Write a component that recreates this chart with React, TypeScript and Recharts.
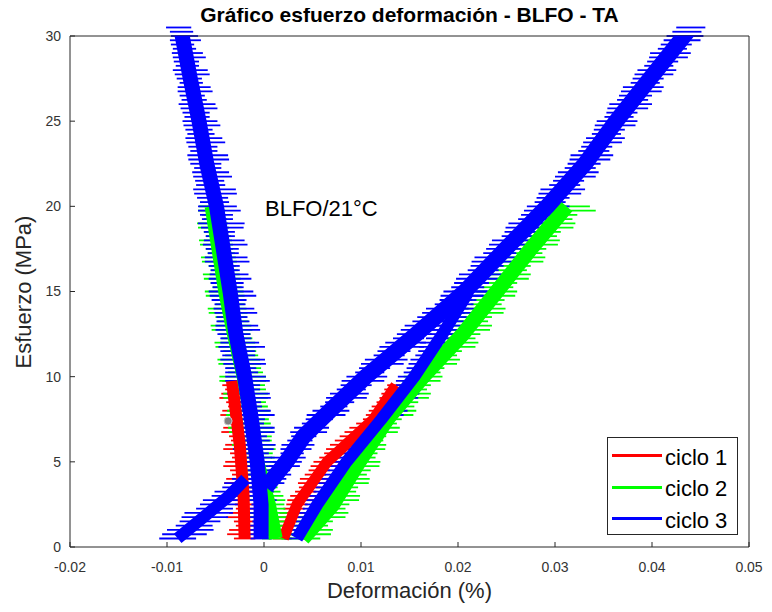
import React from 'react';
import { ComposedChart, XAxis, YAxis, Scatter, ErrorBar, Legend } from 'recharts';

// [esfuerzo (MPa), deformación (%), dispersión (%)]
type Row = [number, number, number];
// [esfuerzo (MPa), deformación (%)] – eje central de cada rama
type Eje = [number, number];

const xTicks = [-0.02, -0.01, 0, 0.01, 0.02, 0.03, 0.04, 0.05];
const yTicks = [0, 5, 10, 15, 20, 25, 30];
const seriesNames = ['ciclo 1', 'ciclo 2', 'ciclo 3'];
const seriesColors = ['#ff0000', '#00ff00', '#0000ff'];

const ciclo1Descarga: Row[] = [
  [0.5, -0.002, 0.0011], [0.75, -0.0023, 0.0015], [1.0, -0.0022, 0.0014], [1.25, -0.0018, 0.0011],
  [1.5, -0.0019, 0.0012], [1.75, -0.0023, 0.0016], [2.0, -0.0021, 0.0015], [2.25, -0.0018, 0.0011],
  [2.5, -0.0019, 0.0011], [2.75, -0.0023, 0.0015], [3.0, -0.0022, 0.0014], [3.25, -0.0019, 0.0011],
  [3.5, -0.0021, 0.0011], [3.75, -0.0025, 0.0016], [4.0, -0.0024, 0.0015], [4.25, -0.0021, 0.0012],
  [4.5, -0.0023, 0.0012], [4.75, -0.0026, 0.0016], [5.0, -0.0025, 0.0015], [5.25, -0.0022, 0.0011],
  [5.5, -0.0024, 0.0011], [5.75, -0.0027, 0.0015], [6.0, -0.0026, 0.0014], [6.25, -0.0023, 0.0011],
  [6.5, -0.0025, 0.0011], [6.75, -0.0029, 0.0015], [7.0, -0.0028, 0.0014], [7.25, -0.0025, 0.0011],
  [7.5, -0.0027, 0.0011], [7.75, -0.0031, 0.0014], [8.0, -0.003, 0.0013], [8.25, -0.0027, 0.001],
  [8.5, -0.0029, 0.001], [8.75, -0.0033, 0.0013], [9.0, -0.0032, 0.0012], [9.25, -0.003, 0.001],
  [9.5, -0.0033, 0.001], [9.75, -0.0035, 0.0008],
];

const ciclo1Carga: Row[] = [
  [0.5, 0.0019, 0.001], [0.75, 0.0022, 0.0014], [1.0, 0.0022, 0.0013], [1.25, 0.0021, 0.001],
  [1.5, 0.0024, 0.001], [1.75, 0.0029, 0.0015], [2.0, 0.003, 0.0014], [2.25, 0.0031, 0.0011],
  [2.5, 0.0034, 0.0011], [2.75, 0.0039, 0.0015], [3.0, 0.0041, 0.0014], [3.25, 0.0043, 0.0011],
  [3.5, 0.0047, 0.0011], [3.75, 0.0051, 0.0016], [4.0, 0.0052, 0.0015], [4.25, 0.0053, 0.0011],
  [4.5, 0.0057, 0.0011], [4.75, 0.0064, 0.0016], [5.0, 0.0066, 0.0015], [5.25, 0.0068, 0.0011],
  [5.5, 0.0073, 0.0011], [5.75, 0.008, 0.0016], [6.0, 0.0083, 0.0015], [6.25, 0.0085, 0.0012],
  [6.5, 0.009, 0.0012], [6.75, 0.0099, 0.0016], [7.0, 0.0103, 0.0015], [7.25, 0.0107, 0.0012],
  [7.5, 0.0114, 0.0012], [7.75, 0.0121, 0.0016], [8.0, 0.0122, 0.0014], [8.25, 0.0122, 0.0011],
  [8.5, 0.0127, 0.0011], [8.75, 0.0132, 0.0013], [9.0, 0.0133, 0.0012], [9.25, 0.0134, 0.001],
  [9.5, 0.0137, 0.001],
];

const ciclo2Descarga: Row[] = [
  [0.5, 0.0013, 0.0015], [0.75, 0.001, 0.002], [1.0, 0.0009, 0.0018], [1.25, 0.0012, 0.0014],
  [1.5, 0.001, 0.0014], [1.75, 0.0006, 0.002], [2.0, 0.0005, 0.0019], [2.25, 0.0008, 0.0014],
  [2.5, 0.0006, 0.0015], [2.75, 0.0002, 0.002], [3.0, 0.0001, 0.0019], [3.25, 0.0003, 0.0014],
  [3.5, 0.0, 0.0014], [3.75, -0.0003, 0.0021], [4.0, -0.0004, 0.002], [4.25, -0.0001, 0.0015],
  [4.5, -0.0003, 0.0015], [4.75, -0.0007, 0.0022], [5.0, -0.0008, 0.0021], [5.25, -0.0005, 0.0016],
  [5.5, -0.0007, 0.0016], [5.75, -0.001, 0.0022], [6.0, -0.0011, 0.0022], [6.25, -0.0008, 0.0016],
  [6.5, -0.0009, 0.0017], [6.75, -0.0013, 0.0023], [7.0, -0.0014, 0.0023], [7.25, -0.001, 0.0017],
  [7.5, -0.0012, 0.0017], [7.75, -0.0016, 0.0023], [8.0, -0.0016, 0.0022], [8.25, -0.0013, 0.0017],
  [8.5, -0.0015, 0.0017], [8.75, -0.0019, 0.0023], [9.0, -0.0019, 0.0023], [9.25, -0.0016, 0.0018],
  [9.5, -0.0017, 0.0018], [9.75, -0.0022, 0.0024], [10.0, -0.0022, 0.0024], [10.25, -0.0019, 0.0018],
  [10.5, -0.0021, 0.0018], [10.75, -0.0025, 0.0022], [11.0, -0.0026, 0.0022], [11.25, -0.0023, 0.0017],
  [11.5, -0.0025, 0.0017], [11.75, -0.0029, 0.0021], [12.0, -0.003, 0.0021], [12.25, -0.0028, 0.0016],
  [12.5, -0.003, 0.0016], [12.75, -0.0033, 0.0021], [13.0, -0.0034, 0.0021], [13.25, -0.0032, 0.0016],
  [13.5, -0.0034, 0.0016], [13.75, -0.0037, 0.002], [14.0, -0.0038, 0.002], [14.25, -0.0035, 0.0015],
  [14.5, -0.0037, 0.0015], [14.75, -0.004, 0.002], [15.0, -0.0041, 0.002], [15.25, -0.0038, 0.0015],
  [15.5, -0.004, 0.0015], [15.75, -0.0043, 0.0019], [16.0, -0.0044, 0.0019], [16.25, -0.0041, 0.0014],
  [16.5, -0.0043, 0.0014], [16.75, -0.0046, 0.0018], [17.0, -0.0047, 0.0018], [17.25, -0.0044, 0.0014],
  [17.5, -0.0046, 0.0014], [17.75, -0.0049, 0.0017], [18.0, -0.005, 0.0017], [18.25, -0.0047, 0.0013],
  [18.5, -0.0049, 0.0013], [18.75, -0.0052, 0.0016], [19.0, -0.0053, 0.0016], [19.25, -0.005, 0.0012],
  [19.5, -0.0052, 0.0012], [19.75, -0.0054, 0.0014], [20.0, -0.0055, 0.0012],
];

const ciclo2Carga: Row[] = [
  [0.5, 0.0038, 0.002], [0.75, 0.0044, 0.0025], [1.0, 0.0047, 0.0024], [1.25, 0.0048, 0.0018],
  [1.5, 0.0052, 0.0019], [1.75, 0.006, 0.0024], [2.0, 0.0064, 0.0023], [2.25, 0.0066, 0.0018],
  [2.5, 0.007, 0.0018], [2.75, 0.0075, 0.0023], [3.0, 0.0077, 0.0022], [3.25, 0.0078, 0.0017],
  [3.5, 0.008, 0.0017], [3.75, 0.0086, 0.0022], [4.0, 0.0088, 0.0021], [4.25, 0.009, 0.0016],
  [4.5, 0.0094, 0.0016], [4.75, 0.0098, 0.0021], [5.0, 0.0099, 0.0021], [5.25, 0.0099, 0.0016],
  [5.5, 0.0101, 0.0016], [5.75, 0.0105, 0.002], [6.0, 0.0106, 0.002], [6.25, 0.0107, 0.0016],
  [6.5, 0.011, 0.0016], [6.75, 0.0117, 0.0021], [7.0, 0.0119, 0.0021], [7.25, 0.0121, 0.0016],
  [7.5, 0.0126, 0.0016], [7.75, 0.0134, 0.002], [8.0, 0.0137, 0.002], [8.25, 0.0139, 0.0016],
  [8.5, 0.0143, 0.0016], [8.75, 0.0149, 0.0021], [9.0, 0.0151, 0.0021], [9.25, 0.0152, 0.0016],
  [9.5, 0.0156, 0.0016], [9.75, 0.0162, 0.002], [10.0, 0.0164, 0.002], [10.25, 0.0166, 0.0016],
  [10.5, 0.017, 0.0016], [10.75, 0.0178, 0.0021], [11.0, 0.0181, 0.0021], [11.25, 0.0183, 0.0016],
  [11.5, 0.0188, 0.0016], [11.75, 0.0196, 0.0022], [12.0, 0.0199, 0.0022], [12.25, 0.0201, 0.0017],
  [12.5, 0.0206, 0.0017], [12.75, 0.0212, 0.0021], [13.0, 0.0214, 0.0021], [13.25, 0.0215, 0.0016],
  [13.5, 0.0219, 0.0016], [13.75, 0.0226, 0.0021], [14.0, 0.0228, 0.0021], [14.25, 0.0229, 0.0016],
  [14.5, 0.0232, 0.0016], [14.75, 0.0238, 0.0021], [15.0, 0.024, 0.0021], [15.25, 0.0241, 0.0016],
  [15.5, 0.0245, 0.0016], [15.75, 0.0252, 0.0021], [16.0, 0.0254, 0.0021], [16.25, 0.0255, 0.0016],
  [16.5, 0.0259, 0.0016], [16.75, 0.0266, 0.0022], [17.0, 0.0268, 0.0022], [17.25, 0.027, 0.0017],
  [17.5, 0.0274, 0.0017], [17.75, 0.0282, 0.0021], [18.0, 0.0284, 0.0021], [18.25, 0.0286, 0.0016],
  [18.5, 0.029, 0.0016], [18.75, 0.0297, 0.0022], [19.0, 0.0299, 0.0022], [19.25, 0.0301, 0.0017],
  [19.5, 0.0306, 0.0017], [19.75, 0.0312, 0.003], [20.0, 0.0312, 0.0024],
];

const ciclo3Descarga: Row[] = [
  [0.5, -0.0003, 0.0011], [0.75, -0.0001, 0.0016], [1.0, -0.0006, 0.0014], [1.25, -0.0004, 0.0019],
  [1.5, -0.0002, 0.001], [1.75, -0.0007, 0.0017], [2.0, -0.0005, 0.0016], [2.25, -0.0002, 0.0013],
  [2.5, -0.0001, 0.0012], [2.75, -0.0005, 0.0018], [3.0, -0.0006, 0.0015], [3.25, -0.0002, 0.0012],
  [3.5, -0.0003, 0.0011], [3.75, -0.0007, 0.0019], [4.0, -0.0008, 0.0017], [4.25, -0.0003, 0.0014],
  [4.5, -0.0004, 0.0013], [4.75, -0.0009, 0.002], [5.0, -0.0007, 0.0019], [5.25, -0.0005, 0.0013],
  [5.5, -0.0009, 0.0014], [5.75, -0.0011, 0.0021], [6.0, -0.0006, 0.0018], [6.25, -0.001, 0.0016],
  [6.5, -0.0012, 0.0015], [6.75, -0.0008, 0.0019], [7.0, -0.001, 0.0021], [7.25, -0.0014, 0.0014],
  [7.5, -0.0015, 0.0016], [7.75, -0.0011, 0.0022], [8.0, -0.0013, 0.002], [8.25, -0.0017, 0.0015],
  [8.5, -0.0018, 0.0015], [8.75, -0.0014, 0.0021], [9.0, -0.0016, 0.0022], [9.25, -0.002, 0.0016],
  [9.5, -0.0021, 0.0017], [9.75, -0.0017, 0.0023], [10.0, -0.0019, 0.0021], [10.25, -0.0023, 0.0017],
  [10.5, -0.0024, 0.0016], [10.75, -0.002, 0.0022], [11.0, -0.0022, 0.0023], [11.25, -0.0026, 0.0017],
  [11.5, -0.0027, 0.0018], [11.75, -0.0023, 0.0024], [12.0, -0.0025, 0.002], [12.25, -0.0029, 0.0016],
  [12.5, -0.0031, 0.0017], [12.75, -0.0027, 0.0023], [13.0, -0.0028, 0.0022], [13.25, -0.0032, 0.0017],
  [13.5, -0.0033, 0.0016], [13.75, -0.0029, 0.0022], [14.0, -0.0031, 0.0021], [14.25, -0.0035, 0.0016],
  [14.5, -0.0036, 0.0018], [14.75, -0.0032, 0.0024], [15.0, -0.0034, 0.0023], [15.25, -0.0037, 0.0016],
  [15.5, -0.0038, 0.0017], [15.75, -0.0035, 0.0022], [16.0, -0.0036, 0.002], [16.25, -0.004, 0.0015],
  [16.5, -0.0041, 0.0016], [16.75, -0.0038, 0.0023], [17.0, -0.0039, 0.0022], [17.25, -0.0042, 0.0016],
  [17.5, -0.0043, 0.0017], [17.75, -0.004, 0.0023], [18.0, -0.0041, 0.0021], [18.25, -0.0045, 0.0015],
  [18.5, -0.0046, 0.0016], [18.75, -0.0043, 0.0022], [19.0, -0.0044, 0.0024], [19.25, -0.0048, 0.0016],
  [19.5, -0.0049, 0.0017], [19.75, -0.0046, 0.0022], [20.0, -0.0048, 0.002], [20.25, -0.0051, 0.0015],
  [20.5, -0.0053, 0.0016], [20.75, -0.005, 0.0022], [21.0, -0.0051, 0.0022], [21.25, -0.0055, 0.0015],
  [21.5, -0.0056, 0.0015], [21.75, -0.0053, 0.002], [22.0, -0.0055, 0.0019], [22.25, -0.0058, 0.0014],
  [22.5, -0.006, 0.0016], [22.75, -0.0057, 0.0021], [23.0, -0.0058, 0.0021], [23.25, -0.0062, 0.0014],
  [23.5, -0.0063, 0.0015], [23.75, -0.006, 0.002], [24.0, -0.0062, 0.0019], [24.25, -0.0065, 0.0014],
  [24.5, -0.0067, 0.0014], [24.75, -0.0064, 0.0019], [25.0, -0.0066, 0.0018], [25.25, -0.0069, 0.0013],
  [25.5, -0.007, 0.0014], [25.75, -0.0067, 0.0019], [26.0, -0.0069, 0.0019], [26.25, -0.0072, 0.0013],
  [26.5, -0.0074, 0.0013], [26.75, -0.0071, 0.0018], [27.0, -0.0072, 0.0017], [27.25, -0.0075, 0.0012],
  [27.5, -0.0077, 0.0013], [27.75, -0.0074, 0.0018], [28.0, -0.0076, 0.0018], [28.25, -0.0079, 0.0012],
  [28.5, -0.008, 0.0013], [28.75, -0.0077, 0.0017], [29.0, -0.0079, 0.0016], [29.25, -0.0082, 0.0012],
  [29.5, -0.0084, 0.0012], [29.75, -0.0081, 0.0016], [30.0, -0.0082, 0.0014], [30.25, -0.0085, 0.0012],
  [30.5, -0.0088, 0.0013],
];

const ciclo3Inicio: Row[] = [
  [0.5, -0.0089, 0.0019], [0.75, -0.0082, 0.0023], [1.0, -0.0076, 0.0024], [1.25, -0.0072, 0.0019],
  [1.5, -0.0066, 0.0021], [1.75, -0.0061, 0.0024], [2.0, -0.0057, 0.0025], [2.25, -0.0051, 0.0019],
  [2.5, -0.0046, 0.002], [2.75, -0.0041, 0.0022], [3.0, -0.0036, 0.0018], [3.25, -0.0031, 0.002],
  [3.5, -0.0027, 0.0016], [3.75, -0.0023, 0.0018], [4.0, -0.0019, 0.0014],
];

const ciclo3Carga: Row[] = [
  [3.5, 0.0002, 0.001], [3.75, 0.0007, 0.0014], [4.0, 0.001, 0.0013], [4.25, 0.0012, 0.0016],
  [4.5, 0.0016, 0.0011], [4.75, 0.0021, 0.0016], [5.0, 0.0024, 0.0015], [5.25, 0.0025, 0.0018],
  [5.5, 0.0029, 0.0012], [5.75, 0.0033, 0.0016], [6.0, 0.0035, 0.0017], [6.25, 0.0037, 0.0013],
  [6.5, 0.0041, 0.0013], [6.75, 0.0046, 0.0019], [7.0, 0.0049, 0.0018], [7.25, 0.0052, 0.0013],
  [7.5, 0.0057, 0.0014], [7.75, 0.0064, 0.002], [8.0, 0.0069, 0.0019], [8.25, 0.0072, 0.0014],
  [8.5, 0.0078, 0.0015], [8.75, 0.0085, 0.0021], [9.0, 0.0088, 0.002], [9.25, 0.009, 0.0015],
  [9.5, 0.0095, 0.0016], [9.75, 0.0102, 0.0022], [10.0, 0.0106, 0.0021], [10.25, 0.0109, 0.0015],
  [10.5, 0.0114, 0.0016], [10.75, 0.0122, 0.0022], [11.0, 0.0126, 0.0022], [11.25, 0.0129, 0.0016],
  [11.5, 0.0134, 0.0017], [11.75, 0.0142, 0.0023], [12.0, 0.0146, 0.0021], [12.25, 0.0149, 0.0016],
  [12.5, 0.0155, 0.0018], [12.75, 0.0164, 0.0023], [13.0, 0.0168, 0.0023], [13.25, 0.017, 0.0017],
  [13.5, 0.0176, 0.0018], [13.75, 0.0185, 0.0022], [14.0, 0.0189, 0.0022], [14.25, 0.0192, 0.0016],
  [14.5, 0.0198, 0.0017], [14.75, 0.0204, 0.0022], [15.0, 0.0208, 0.0023], [15.25, 0.021, 0.0017],
  [15.5, 0.0214, 0.0018], [15.75, 0.022, 0.0022], [16.0, 0.0223, 0.0022], [16.25, 0.0226, 0.0016],
  [16.5, 0.023, 0.0017], [16.75, 0.0237, 0.0023], [17.0, 0.024, 0.0023], [17.25, 0.0243, 0.0017],
  [17.5, 0.0247, 0.0018], [17.75, 0.0254, 0.0022], [18.0, 0.0257, 0.0022], [18.25, 0.0261, 0.0016],
  [18.5, 0.0265, 0.0017], [18.75, 0.0272, 0.0023], [19.0, 0.0276, 0.0024], [19.25, 0.0279, 0.0017],
  [19.5, 0.0283, 0.0018], [19.75, 0.029, 0.0022], [20.0, 0.0293, 0.0022], [20.25, 0.0295, 0.0016],
  [20.5, 0.0298, 0.0017], [20.75, 0.0305, 0.0022], [21.0, 0.0308, 0.0023], [21.25, 0.031, 0.0016],
  [21.5, 0.0314, 0.0016], [21.75, 0.0321, 0.0021], [22.0, 0.0324, 0.0021], [22.25, 0.0326, 0.0016],
  [22.5, 0.033, 0.0017], [22.75, 0.0336, 0.0021], [23.0, 0.0338, 0.0022], [23.25, 0.034, 0.0016],
  [23.5, 0.0343, 0.0016], [23.75, 0.0349, 0.002], [24.0, 0.0352, 0.002], [24.25, 0.0353, 0.0015],
  [24.5, 0.0356, 0.0016], [24.75, 0.0362, 0.0021], [25.0, 0.0364, 0.0021], [25.25, 0.0366, 0.0015],
  [25.5, 0.0369, 0.0016], [25.75, 0.0375, 0.0021], [26.0, 0.0378, 0.0022], [26.25, 0.038, 0.0016],
  [26.5, 0.0383, 0.0017], [26.75, 0.0389, 0.0021], [27.0, 0.0391, 0.0021], [27.25, 0.0393, 0.0015],
  [27.5, 0.0396, 0.0016], [27.75, 0.0402, 0.002], [28.0, 0.0405, 0.002], [28.25, 0.0407, 0.0015],
  [28.5, 0.0411, 0.0016], [28.75, 0.0417, 0.002], [29.0, 0.0419, 0.0021], [29.25, 0.0421, 0.0015],
  [29.5, 0.0425, 0.0016], [29.75, 0.0431, 0.0019], [30.0, 0.0434, 0.0019], [30.25, 0.0436, 0.0015],
  [30.5, 0.044, 0.0015],
];

const ciclo3Interior: Row[] = [
  [0.5, 0.0033, 0.0012], [0.75, 0.0037, 0.0016], [1.0, 0.004, 0.0015], [1.25, 0.0041, 0.0012],
  [1.5, 0.0044, 0.0011], [1.75, 0.0049, 0.0016], [2.0, 0.0051, 0.0016], [2.25, 0.0052, 0.0012],
  [2.5, 0.0054, 0.0012], [2.75, 0.0059, 0.0016], [3.0, 0.0061, 0.0015], [3.25, 0.0062, 0.0011],
  [3.5, 0.0064, 0.0011], [3.75, 0.0069, 0.0016], [4.0, 0.0071, 0.0016], [4.25, 0.0073, 0.0012],
  [4.5, 0.0077, 0.0012], [4.75, 0.0083, 0.0017], [5.0, 0.0086, 0.0016], [5.25, 0.0087, 0.0012],
  [5.5, 0.0091, 0.0012], [5.75, 0.0097, 0.0016], [6.0, 0.01, 0.0015], [6.25, 0.0101, 0.0012],
  [6.5, 0.0104, 0.0012], [6.75, 0.011, 0.0016], [7.0, 0.0112, 0.0016], [7.25, 0.0115, 0.0012],
  [7.5, 0.0119, 0.0012], [7.75, 0.0127, 0.0017], [8.0, 0.0131, 0.0017], [8.25, 0.0132, 0.0013],
  [8.5, 0.0136, 0.0013], [8.75, 0.0142, 0.0017], [9.0, 0.0144, 0.0016], [9.25, 0.0145, 0.0012],
  [9.5, 0.0148, 0.0012], [9.75, 0.0153, 0.0017], [10.0, 0.0155, 0.0017], [10.25, 0.0157, 0.0013],
  [10.5, 0.016, 0.0013], [10.75, 0.0166, 0.0017], [11.0, 0.0168, 0.0017], [11.25, 0.0169, 0.0013],
  [11.5, 0.0172, 0.0013], [11.75, 0.0177, 0.0017], [12.0, 0.0178, 0.0017], [12.25, 0.018, 0.0013],
  [12.5, 0.0184, 0.0013], [12.75, 0.0189, 0.0017], [13.0, 0.019, 0.0017], [13.25, 0.0192, 0.0014],
  [13.5, 0.0195, 0.0014], [13.75, 0.02, 0.0018], [14.0, 0.0201, 0.0018], [14.25, 0.0202, 0.0014],
  [14.5, 0.0205, 0.0014], [14.75, 0.021, 0.0018], [15.0, 0.0212, 0.0018],
];

// ejes centrales
const eje1Descarga: Eje[] = [[0.5, -0.002], [3, -0.0021], [6, -0.0025], [9.75, -0.0033]];
const eje1Carga: Eje[] = [[0.5, 0.002], [2.5, 0.0034], [5, 0.0065], [7.5, 0.0113], [9.5, 0.0136]];
const eje2Descarga: Eje[] = [
  [0.5, 0.0012], [2.5, 0.0005], [5, -0.0007], [7.5, -0.0013], [10, -0.0021],
  [12.5, -0.0031], [15, -0.004], [17.5, -0.0047], [20, -0.0054],
];
const eje2Carga: Eje[] = [
  [0.5, 0.004], [2.5, 0.0071], [5, 0.0098], [7.5, 0.0127], [10, 0.0164],
  [12.5, 0.0205], [15, 0.024], [17.5, 0.0275], [20, 0.0312],
];
const eje3Descarga: Eje[] = [
  [0.5, -0.0003], [2.5, -0.0003], [5, -0.0007], [7.5, -0.0013], [10, -0.002], [12.5, -0.0029],
  [15, -0.0035], [17.5, -0.0042], [20, -0.0049], [22.5, -0.0059], [25, -0.0067], [27.5, -0.0076], [30.5, -0.0086],
];
const eje3Inicio: Eje[] = [[0.5, -0.0089], [2, -0.0057], [3, -0.0036], [4, -0.0019]];
const eje3Carga: Eje[] = [
  [3.5, 0.0002], [5, 0.0023], [6.5, 0.0041], [8, 0.0068], [10, 0.0105], [12.5, 0.0157],
  [15, 0.0207], [17.5, 0.0249], [20, 0.0292], [22.5, 0.0331], [25, 0.0363], [27.5, 0.0398], [30.5, 0.044],
];
const eje3Interior: Eje[] = [
  [0.5, 0.0034], [2.5, 0.0055], [5, 0.0085], [7.5, 0.0121], [10, 0.0155], [12.5, 0.0184], [15, 0.0211],
];

const marcador = [{ x: -0.0037, y: 7.4 }];

const FONT = '"Liberation Sans", Arial, Helvetica, sans-serif';
const AXIS = '#262626';

const toPts = (rows: Row[]) => rows.map(([y, x, e]) => ({ x, y, e }));
const toEje = (rows: Eje[]) => rows.map(([y, x]) => ({ x, y }));

const ramas = [
  { id: 'c1d', color: seriesColors[0], band: 12, rows: ciclo1Descarga, eje: eje1Descarga },
  { id: 'c1c', color: seriesColors[0], band: 11, rows: ciclo1Carga, eje: eje1Carga },
  { id: 'c2d', color: seriesColors[1], band: 14, rows: ciclo2Descarga, eje: eje2Descarga },
  { id: 'c2c', color: seriesColors[1], band: 15, rows: ciclo2Carga, eje: eje2Carga },
  { id: 'c3d', color: seriesColors[2], band: 15, rows: ciclo3Descarga, eje: eje3Descarga },
  { id: 'c3i', color: seriesColors[2], band: 12, rows: ciclo3Inicio, eje: eje3Inicio },
  { id: 'c3c', color: seriesColors[2], band: 16, rows: ciclo3Carga, eje: eje3Carga },
  { id: 'c3n', color: seriesColors[2], band: 12, rows: ciclo3Interior, eje: eje3Interior },
].map((r) => ({ ...r, data: toPts(r.rows), centro: toEje(r.eje) }));

const noShape = () => <g />;

const LegendBox = () => (
  <div
    style={{
      width: 131,
      height: 98,
      boxSizing: 'border-box',
      border: `1px solid ${AXIS}`,
      background: '#fff',
      paddingTop: 2,
      fontFamily: FONT,
    }}
  >
    {seriesNames.map((n, i) => (
      <div key={n} style={{ display: 'flex', alignItems: 'center', height: 31.5 }}>
        <span style={{ width: 50, height: 3, background: seriesColors[i], marginLeft: 4 }} />
        <span style={{ marginLeft: 3, fontSize: 22, lineHeight: '22px', color: '#000', position: 'relative', top: 2 }}>
          {n}
        </span>
      </div>
    ))}
  </div>
);

export default function App() {
  return (
    <div style={{ position: 'relative', width: 756, height: 596, fontFamily: FONT }}>
      <ComposedChart width={756} height={596} margin={{ top: 0, right: 0, bottom: 0, left: 0 }} style={{ fontFamily: FONT }}>
        <XAxis
          xAxisId="b"
          type="number"
          dataKey="x"
          domain={[-0.02, 0.05]}
          ticks={xTicks}
          interval={0}
          allowDataOverflow
          height={57}
          stroke={AXIS}
          tickSize={-5}
          tickMargin={20}
          tick={{ fontSize: 14, fill: '#333' }}
          label={{ value: 'Deformación (%)', position: 'insideBottom', offset: 6, fontSize: 22, fill: AXIS }}
        />
        <XAxis
          xAxisId="t"
          orientation="top"
          type="number"
          dataKey="x"
          domain={[-0.02, 0.05]}
          ticks={xTicks}
          interval={0}
          allowDataOverflow
          height={28}
          stroke={AXIS}
          tickSize={-5}
          tick={false}
        />
        <YAxis
          yAxisId="l"
          type="number"
          dataKey="y"
          domain={[0, 30]}
          ticks={yTicks}
          interval={0}
          allowDataOverflow
          width={62}
          stroke={AXIS}
          tickSize={-5}
          tickMargin={14}
          tick={{ fontSize: 14, fill: '#333' }}
        />
        <YAxis
          yAxisId="r"
          orientation="right"
          type="number"
          dataKey="y"
          domain={[0, 30]}
          ticks={yTicks}
          interval={0}
          allowDataOverflow
          width={15}
          stroke={AXIS}
          tickSize={-5}
          tick={false}
        />

        {ramas.map((r) => (
          <Scatter
            key={`band-${r.id}`}
            xAxisId="b"
            yAxisId="l"
            data={r.centro}
            fill={r.color}
            shape={noShape}
            line={{ stroke: r.color, strokeWidth: r.band, strokeLinejoin: 'round', strokeLinecap: 'butt' }}
            lineType="joint"
            isAnimationActive={false}
          />
        ))}
        {ramas.map((r) => (
          <Scatter
            key={`whisk-${r.id}`}
            xAxisId="b"
            yAxisId="l"
            data={r.data}
            fill={r.color}
            shape={noShape}
            isAnimationActive={false}
          >
            <ErrorBar dataKey="e" direction="x" width={0} stroke={r.color} strokeWidth={1.8} isAnimationActive={false} />
          </Scatter>
        ))}
        <Scatter
          xAxisId="b"
          yAxisId="l"
          data={marcador}
          isAnimationActive={false}
          shape={(p: any) => <circle cx={p.cx} cy={p.cy} r={4} fill="#808080" stroke="#c8c8c8" strokeWidth={1} />}
        />
        <Legend
          layout="vertical"
          align="center"
          verticalAlign="middle"
          content={<LegendBox />}
          wrapperStyle={{ position: 'absolute', left: 599, top: 429, width: 131, height: 98 }}
        />
      </ComposedChart>

      <div
        style={{
          position: 'absolute',
          left: 0,
          top: -4,
          width: 803,
          textAlign: 'center',
          fontSize: 21,
          lineHeight: '21px',
          fontWeight: 'bold',
          color: '#000',
          whiteSpace: 'nowrap',
        }}
      >
        Gráfico esfuerzo deformación - BLFO - TA
      </div>
      <div
        style={{
          position: 'absolute',
          left: 16,
          top: 284,
          fontSize: 22,
          lineHeight: 1,
          color: AXIS,
          whiteSpace: 'nowrap',
          transform: 'translate(-50%, -50%) rotate(-90deg)',
        }}
      >
        Esfuerzo (MPa)
      </div>
      <div
        style={{
          position: 'absolute',
          left: 257,
          top: 190,
          fontSize: 22,
          lineHeight: 1,
          color: '#000',
          whiteSpace: 'nowrap',
        }}
      >
        BLFO/21°C
      </div>
    </div>
  );
}
